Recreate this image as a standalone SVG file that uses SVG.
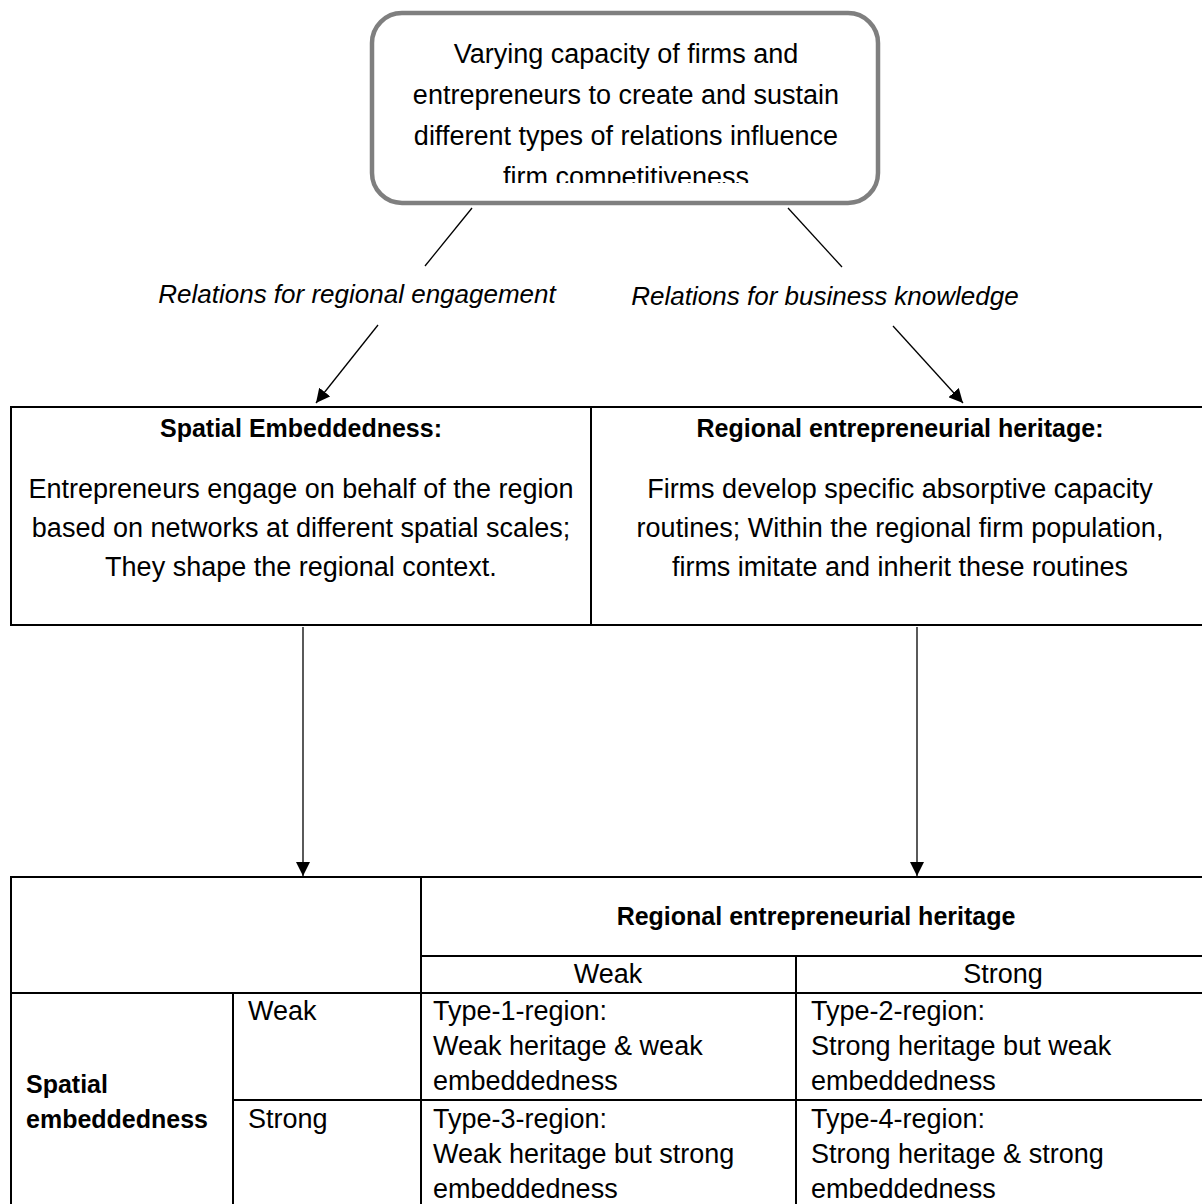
<svg xmlns="http://www.w3.org/2000/svg" width="1202" height="1204" viewBox="0 0 1202 1204">
<defs>
<style>
text{font-family:"Liberation Sans",Arial,sans-serif;fill:#000}
.b27{font-size:27px}
.t26{font-size:26px;font-style:italic}
.h25{font-size:25px;font-weight:bold}
.c{text-anchor:middle}
.line{stroke:#000;stroke-width:1.3;fill:none}
.cell{stroke:#000;stroke-width:2;fill:none}
</style>
<marker id="ah" viewBox="0 0 10 10" refX="10" refY="5" markerWidth="14" markerHeight="14" markerUnits="userSpaceOnUse" orient="auto">
<path d="M0,0 L10,5 L0,10 z" fill="#000"/>
</marker>
<clipPath id="topclip"><rect x="372" y="13" width="506" height="170"/></clipPath>
</defs>
<rect width="1202" height="1204" fill="#fff"/>

<g id="connectors">
<line class="line" x1="472" y1="208" x2="425" y2="266"/>
<line class="line" x1="788" y1="208" x2="842" y2="267"/>
<line class="line" x1="378" y1="325" x2="316" y2="403" marker-end="url(#ah)"/>
<line class="line" x1="893" y1="326" x2="963" y2="403" marker-end="url(#ah)"/>
<line class="line" x1="303" y1="627" x2="303" y2="876" marker-end="url(#ah)"/>
<line class="line" x1="917" y1="627" x2="917" y2="876" marker-end="url(#ah)"/>
</g>

<g id="top-box">
<rect x="372" y="13" width="506" height="190" rx="30" ry="30" fill="#fff" stroke="#7f7f7f" stroke-width="4.5"/>
<g clip-path="url(#topclip)">
<text class="b27 c" x="626" y="63">Varying capacity of firms and</text>
<text class="b27 c" x="626" y="104">entrepreneurs to create and sustain</text>
<text class="b27 c" x="626" y="145">different types of relations influence</text>
<text class="b27 c" x="626" y="186">firm competitiveness</text>
</g>
</g>

<g id="label-regional">
<text class="t26 c" x="357" y="303">Relations for regional engagement</text>
</g>
<g id="label-business">
<text class="t26 c" x="825" y="305">Relations for business knowledge</text>
</g>

<g id="spatial-box">
<rect class="cell" x="11" y="407" width="580" height="218"/>
<text class="h25 c" x="301" y="437">Spatial Embeddedness:</text>
<text class="b27 c" x="301" y="498">Entrepreneurs engage on behalf of the region</text>
<text class="b27 c" x="301" y="537">based on networks at different spatial scales;</text>
<text class="b27 c" x="301" y="576">They shape the regional context.</text>
</g>

<g id="heritage-box">
<rect class="cell" x="591" y="407" width="620" height="218"/>
<text class="h25 c" x="900" y="437">Regional entrepreneurial heritage:</text>
<text class="b27 c" x="900" y="498">Firms develop specific absorptive capacity</text>
<text class="b27 c" x="900" y="537">routines; Within the regional firm population,</text>
<text class="b27 c" x="900" y="576">firms imitate and inherit these routines</text>
</g>

<g id="typology-table">
<rect class="cell" x="11" y="877" width="1199" height="340"/>
<line class="cell" x1="421" y1="877" x2="421" y2="1217"/>
<line class="cell" x1="421" y1="956" x2="1210" y2="956"/>
<line class="cell" x1="796" y1="956" x2="796" y2="1217"/>
<line class="cell" x1="11" y1="993" x2="1210" y2="993"/>
<line class="cell" x1="233" y1="993" x2="233" y2="1217"/>
<line class="cell" x1="233" y1="1100" x2="1210" y2="1100"/>
<text class="h25 c" x="816" y="925">Regional entrepreneurial heritage</text>
<text class="b27 c" x="608" y="983">Weak</text>
<text class="b27 c" x="1003" y="983">Strong</text>
<text class="h25" x="26" y="1093">Spatial</text>
<text class="h25" x="26" y="1128">embeddedness</text>
<text class="b27" x="248" y="1020">Weak</text>
<text class="b27" x="248" y="1128">Strong</text>
<text class="b27" x="433" y="1020">Type-1-region:</text>
<text class="b27" x="433" y="1055">Weak heritage &amp; weak</text>
<text class="b27" x="433" y="1090">embeddedness</text>
<text class="b27" x="811" y="1020">Type-2-region:</text>
<text class="b27" x="811" y="1055">Strong heritage but weak</text>
<text class="b27" x="811" y="1090">embeddedness</text>
<text class="b27" x="433" y="1128">Type-3-region:</text>
<text class="b27" x="433" y="1163">Weak heritage but strong</text>
<text class="b27" x="433" y="1198">embeddedness</text>
<text class="b27" x="811" y="1128">Type-4-region:</text>
<text class="b27" x="811" y="1163">Strong heritage &amp; strong</text>
<text class="b27" x="811" y="1198">embeddedness</text>
</g>
</svg>
